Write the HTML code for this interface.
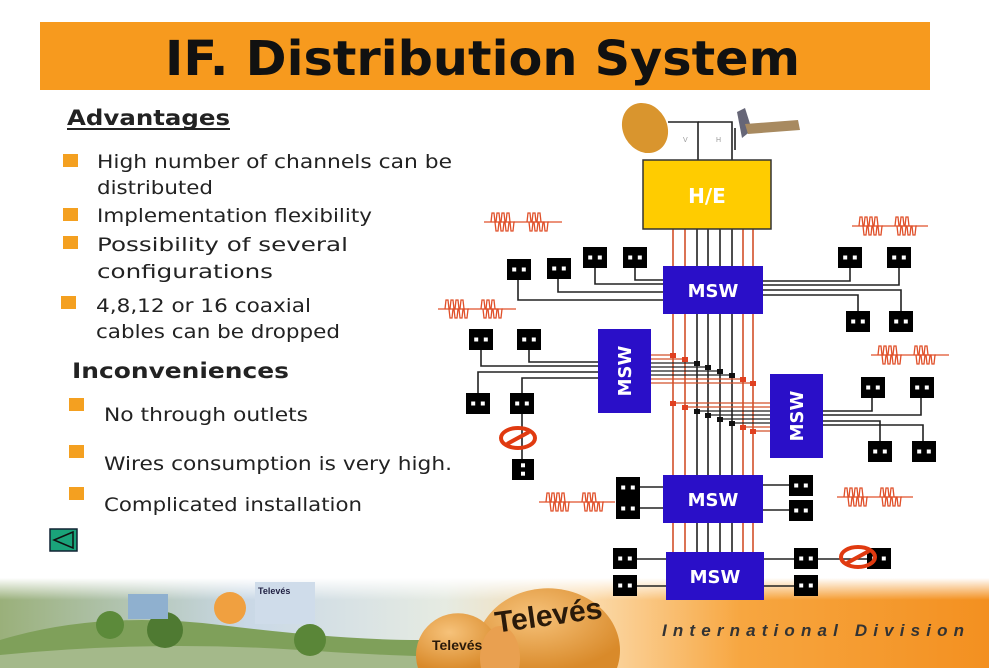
<!DOCTYPE html>
<html><head><meta charset="utf-8"><style>
html,body{margin:0;padding:0;background:#fff;width:989px;height:668px;overflow:hidden;}
svg{display:block;}
</style></head><body>
<svg id="s" width="989" height="668" viewBox="0 0 989 668" xmlns="http://www.w3.org/2000/svg">
<defs>
<linearGradient id="ban" x1="0" x2="1" y1="0" y2="0">
<stop offset="0" stop-color="#9ab07a"/><stop offset="0.25" stop-color="#c9d8e6"/><stop offset="0.45" stop-color="#e6ebe2"/><stop offset="0.6" stop-color="#fbd9a8"/><stop offset="0.75" stop-color="#f7a640"/><stop offset="1" stop-color="#f39020"/>
</linearGradient>
<linearGradient id="sky" x1="0" x2="0" y1="0" y2="1"><stop offset="0" stop-color="#fff" stop-opacity="1"/><stop offset="1" stop-color="#fff" stop-opacity="0"/></linearGradient>
<radialGradient id="dish" cx="0.4" cy="0.35" r="0.7"><stop offset="0" stop-color="#f6c27a"/><stop offset="1" stop-color="#d98a2a"/></radialGradient>
</defs>
<rect x="40" y="22" width="890" height="68" fill="#f79a1e"/>
<text x="165" y="75" font-family="DejaVu Sans, sans-serif" font-weight="bold" font-size="48" textLength="635" lengthAdjust="spacingAndGlyphs" fill="#111">IF. Distribution System</text>

<g font-family="DejaVu Sans, sans-serif" font-size="19" fill="#222">
<text x="67" y="125" font-weight="bold" font-size="21" textLength="163" lengthAdjust="spacingAndGlyphs">Advantages</text>
<rect x="67" y="128" width="163" height="2" fill="#222"/>
<text x="97" y="168" textLength="355" lengthAdjust="spacingAndGlyphs">High number of channels can be</text>
<text x="97" y="194" textLength="116" lengthAdjust="spacingAndGlyphs">distributed</text>
<text x="97" y="222" textLength="275" lengthAdjust="spacingAndGlyphs">Implementation flexibility</text>
<text x="97" y="251" textLength="251" lengthAdjust="spacingAndGlyphs">Possibility of several</text>
<text x="97" y="278" textLength="176" lengthAdjust="spacingAndGlyphs">configurations</text>
<text x="96" y="312" textLength="215" lengthAdjust="spacingAndGlyphs">4,8,12 or 16 coaxial</text>
<text x="96" y="338" textLength="244" lengthAdjust="spacingAndGlyphs">cables can be dropped</text>
<text x="72" y="378" font-weight="bold" font-size="21" textLength="217" lengthAdjust="spacingAndGlyphs">Inconveniences</text>
<text x="104" y="421" textLength="204" lengthAdjust="spacingAndGlyphs">No through outlets</text>
<text x="104" y="470" textLength="348" lengthAdjust="spacingAndGlyphs">Wires consumption is very high.</text>
<text x="104" y="511" textLength="258" lengthAdjust="spacingAndGlyphs">Complicated installation</text>
</g>
<g fill="#f4a020">
<rect x="63" y="154" width="15" height="13"/><rect x="63" y="208" width="15" height="13"/><rect x="63" y="236" width="15" height="13"/><rect x="61" y="296" width="15" height="13"/>
<rect x="69" y="398" width="15" height="13"/><rect x="69" y="445" width="15" height="13"/><rect x="69" y="487" width="15" height="13"/>
</g>
<rect x="50" y="529" width="27" height="22" fill="#1aa37a" stroke="#123" stroke-width="1.5"/>
<polygon points="73,532 54,540 73,548" fill="#1aa37a" stroke="#111" stroke-width="1.5"/>

<rect x="0" y="578" width="989" height="90" fill="url(#ban)"/>
<rect x="0" y="578" width="989" height="22" fill="url(#sky)"/>
<path d="M0,640 Q100,610 220,625 T420,640 L420,668 L0,668Z" fill="#7fa05a"/>
<path d="M0,655 Q150,640 300,650 T500,655 L500,668 L0,668Z" fill="#a4b98a"/>
<circle cx="165" cy="630" r="18" fill="#4f7a32"/><circle cx="110" cy="625" r="14" fill="#5c8a3a"/><circle cx="310" cy="640" r="16" fill="#5a8638"/>
<rect x="128" y="594" width="40" height="25" fill="#8fb0cf"/><rect x="255" y="582" width="60" height="42" fill="#cfdcea"/>
<circle cx="230" cy="608" r="16" fill="#f0a040"/>
<text x="258" y="594" font-family="Liberation Sans, sans-serif" font-size="9" font-weight="bold" fill="#224">Televés</text>
<path d="M479,668 A72,62 0 1,1 617,668 Z" fill="url(#dish)"/>
<path d="M418,668 A42,42 0 1,1 498,668 Z" fill="url(#dish)"/>
<path d="M481,668 A20,32 0 1,1 519,668 Z" fill="#e9a050"/>
<text x="495" y="628" font-family="Liberation Sans, sans-serif" font-size="30" font-weight="bold" fill="#2a1a0a" transform="rotate(-8 530 620)">Televés</text>
<text x="432" y="650" font-family="Liberation Sans, sans-serif" font-size="14" font-weight="bold" fill="#2a1a0a">Televés</text>
<text x="662" y="636" font-family="Liberation Sans, sans-serif" font-size="17" font-weight="bold" font-style="italic" letter-spacing="3" fill="#333" textLength="305" lengthAdjust="spacing">International Division</text>

<g id="dg"></g>
<g font-family="DejaVu Sans, sans-serif" font-weight="bold" fill="#fff">
<text x="707" y="203" font-size="20" text-anchor="middle">H/E</text>
<text x="713" y="297" font-size="18" text-anchor="middle">MSW</text>
<text x="713" y="506" font-size="18" text-anchor="middle">MSW</text>
<text x="715" y="583" font-size="18" text-anchor="middle">MSW</text>
<text x="0" y="0" font-size="18" text-anchor="middle" transform="translate(631,371) rotate(-90)">MSW</text>
<text x="0" y="0" font-size="18" text-anchor="middle" transform="translate(803,416) rotate(-90)">MSW</text>
</g>
</svg>
<script>
(function(){
var g=document.getElementById('dg'),NS='http://www.w3.org/2000/svg';
function el(t,a){var e=document.createElementNS(NS,t);for(var k in a)e.setAttribute(k,a[k]);g.appendChild(e);return e;}
function ln(x1,y1,x2,y2,c,w){el('line',{x1:x1,y1:y1,x2:x2,y2:y2,stroke:c||'#222','stroke-width':w||1.6});}
function pl(p,c){el('polyline',{points:p,fill:'none',stroke:c||'#222','stroke-width':1.6});}
el('ellipse',{cx:645,cy:128,rx:22,ry:26,fill:'#d9952e',transform:'rotate(-30 645 128)'});
pl('668,122 698,122 698,160');pl('698,122 732,122 732,160');pl('735,150 735,128');
el('polygon',{points:'737,112 745,108 752,130 742,138',fill:'#667'});
el('polygon',{points:'745,124 798,120 800,130 748,134',fill:'#a88a60'});
el('text',{x:683,y:142,'font-size':7,fill:'#999','font-family':'Liberation Sans'}).textContent='V';
el('text',{x:716,y:142,'font-size':7,fill:'#999','font-family':'Liberation Sans'}).textContent='H';
var xs=[673,685,697,708,720,732,743,753],cs=['#d2502a','#d2502a','#222','#222','#222','#222','#d2502a','#d2502a'];
xs.forEach(function(x,i){ln(x,229,x,552,cs[i],1.6);});
for(var i=0;i<8;i++){var y=355+i*4;ln(651,y,xs[i],y,i<2||i>5?'#d2502a':'#222',1.3);}
for(var i=0;i<8;i++){var y=403+i*4;ln(xs[i],y,770,y,i<2||i>5?'#d2502a':'#222',1.3);}
for(var i=0;i<8;i++){var c=i<2||i>5?'#e04020':'#111';el('rect',{x:xs[i]-3,y:353+i*4,width:6,height:5,fill:c});el('rect',{x:xs[i]-3,y:401+i*4,width:6,height:5,fill:c});}
el('rect',{x:643,y:160,width:128,height:69,fill:'#ffcc00',stroke:'#333','stroke-width':1.5});
[[663,266,100,48],[598,329,53,84],[770,374,53,84],[663,475,100,48],[666,552,98,48]].forEach(function(b){el('rect',{x:b[0],y:b[1],width:b[2],height:b[3],fill:'#2a0fc8'});});
pl('518,279 518,300 663,300');pl('558,278 558,292 663,292');pl('595,267 595,284 663,284');pl('635,267 635,280 663,280');
pl('763,281 850,281 850,267');pl('763,285 899,285 899,267');pl('763,290 901,290 901,311');pl('763,295 858,295 858,311');
pl('481,350 481,366 598,366');pl('529,350 529,362 598,362');pl('478,393 478,372 598,372');pl('522,393 522,378 598,378');
pl('522,413 522,459');
pl('872,397 872,411 823,411');pl('921,397 921,415 823,415');pl('880,441 880,421 823,421');pl('923,441 923,425 823,425');
pl('639,487 663,487');pl('639,508 663,508');pl('763,485 789,485');pl('763,510 789,510');
pl('637,559 666,559');pl('637,586 666,586');pl('764,559 794,559');pl('764,586 794,586');pl('817,559 867,559');
function out(x,y,w,h,v){el('rect',{x:x,y:y,width:w,height:h,fill:'#000'});
 if(v){el('rect',{x:x+w/2-2,y:y+h*0.3-2,width:4,height:4,fill:'#fff'});el('rect',{x:x+w/2-2,y:y+h*0.7-2,width:4,height:4,fill:'#fff'});}
 else{el('rect',{x:x+w*0.3-2,y:y+h/2-2,width:4,height:4,fill:'#fff'});el('rect',{x:x+w*0.7-2,y:y+h/2-2,width:4,height:4,fill:'#fff'});}}
[[507,259],[547,258],[583,247],[623,247],[838,247],[887,247],[846,311],[889,311],[469,329],[517,329],[466,393],[510,393],[861,377],[910,377],[868,441],[912,441],[616,477],[616,498],[789,475],[789,500],[613,548],[613,575],[794,548],[794,575],[867,548]].forEach(function(p){out(p[0],p[1],24,21);});
out(512,459,22,21,true);
function no(cx,cy){el('ellipse',{cx:cx,cy:cy,rx:17,ry:10,fill:'none',stroke:'#e03a10','stroke-width':4});ln(cx-11,cy+6,cx+11,cy-6,'#e03a10',4);}
no(518,438);no(858,557);
function wave(x,y,w){var col='#e0502a';ln(x-3,y,x+w+3,y,col,1.3);
 function grp(x0,n,up){var d='M'+x0+','+y;for(var k=0;k<n;k++){var a=x0+k*5;d+=' L'+(a+1)+','+(y+up*9)+' L'+(a+3)+','+(y+up*9)+' L'+(a+4)+','+y+' L'+(a+5)+','+y;}el('path',{d:d,fill:'none',stroke:col,'stroke-width':1.3});}
 grp(x+4,4,-1);grp(x+40,3,-1);grp(x+8,4,1);grp(x+42,4,1);}
wave(487,222,72);wave(441,309,72);wave(855,226,70);wave(874,355,72);wave(542,502,70);wave(840,497,70);
})();
</script>
</body></html>
